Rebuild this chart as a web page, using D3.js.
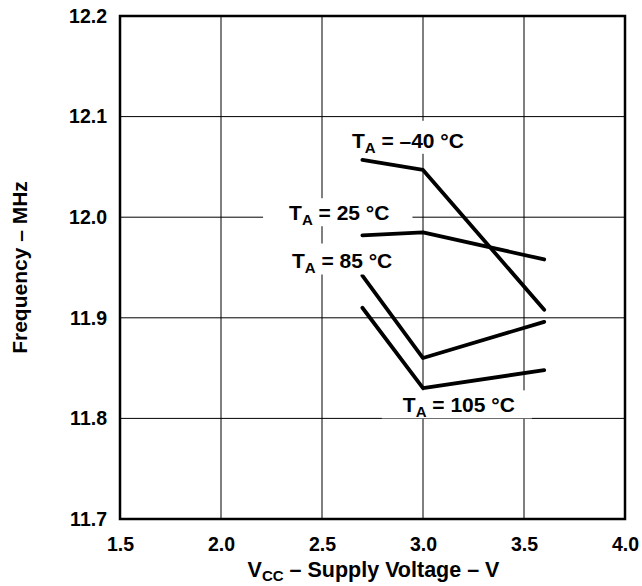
<!DOCTYPE html>
<html>
<head>
<meta charset="utf-8" />
<title>Frequency vs Supply Voltage</title>
<script src="https://d3js.org/d3.v7.min.js"></script>
<style>
  body { margin: 0; background: #fff; }
  text { font-family: 'Liberation Sans', Arial, sans-serif; font-weight: bold; fill: #000; }
  .grid line { stroke: #000; stroke-width: 1px; }
  .curve { fill: none; stroke: #000; stroke-width: 3.8px; stroke-linejoin: round; stroke-linecap: round; }
</style>
</head>
<body>
<script>
// supply voltage points (V)
var vcc = [2.7, 3.0, 3.6];
// frequency (MHz) per ambient temperature
var temps = ["–40", "25", "85", "105"];
var freqM40 = [12.057, 12.047, 11.908];
var freq25 = [11.982, 11.985, 11.958];
var freq85 = [11.942, 11.860, 11.896];
var freq105 = [11.910, 11.830, 11.848];
var xTicks = [1.5, 2.0, 2.5, 3.0, 3.5, 4.0];
var yTicks = [11.7, 11.8, 11.9, 12.0, 12.1, 12.2];

var series = [freqM40, freq25, freq85, freq105];

var width = 642, height = 586;
var margin = {top: 16, right: 17, bottom: 67, left: 120};
var w = width - margin.left - margin.right;
var h = height - margin.top - margin.bottom;

var svg = d3.select("body").append("svg")
  .attr("width", width)
  .attr("height", height);

var g = svg.append("g")
  .attr("transform", "translate(" + margin.left + "," + margin.top + ")");

var x = d3.scaleLinear().domain([1.5, 4.0]).range([0, w]);
var y = d3.scaleLinear().domain([11.7, 12.2]).range([h, 0]);

// grid
var grid = g.append("g").attr("class", "grid");
grid.selectAll("line.v").data(xTicks.slice(1, -1)).enter().append("line")
  .attr("x1", function(d) { return x(d); }).attr("x2", function(d) { return x(d); })
  .attr("y1", 0).attr("y2", h);
grid.selectAll("line.h").data(yTicks.slice(1, -1)).enter().append("line")
  .attr("y1", function(d) { return y(d); }).attr("y2", function(d) { return y(d); })
  .attr("x1", 0).attr("x2", w);

// axes labels via d3 axes
var xAxis = g.append("g")
  .attr("transform", "translate(0," + h + ")")
  .call(d3.axisBottom(x).tickValues(xTicks).tickFormat(d3.format(".1f")).tickSize(0).tickPadding(18));
var yAxis = g.append("g")
  .call(d3.axisLeft(y).tickValues(yTicks).tickFormat(d3.format(".1f")).tickSize(0).tickPadding(13));
[xAxis, yAxis].forEach(function(a) {
  a.select(".domain").remove();
  a.selectAll("text").attr("font-size", 19.5).attr("font-family", null).style("font-weight", "bold");
});

// curves
var line = d3.line()
  .x(function(d, i) { return x(vcc[i]); })
  .y(function(d) { return y(d); });
g.selectAll("path.curve").data(series).enter().append("path")
  .attr("class", "curve")
  .attr("d", line);

// temperature labels with white backing
var labelPos = [
  {x: 2.648, y: 12.069, box: [-8, -27, 8, 6]},
  {x: 2.337, y: 11.997, box: [-26, -22, 23, 6]},
  {x: 2.351, y: 11.950, box: [-10, -24, 10, 7]},
  {x: 2.90, y: 11.806, box: [-21, -22, 17, 6]}
];
temps.forEach(function(t, i) {
  var p = labelPos[i];
  var lg = g.append("g").attr("transform", "translate(" + x(p.x) + "," + y(p.y) + ")");
  var bg = lg.append("rect").attr("fill", "#fff");
  var tx = lg.append("text").attr("font-size", 21);
  tx.append("tspan").text("T");
  tx.append("tspan").attr("font-size", 15).attr("dy", 5).text("A");
  tx.append("tspan").attr("dy", -5).text(" = " + t + " °C");
  var bb = tx.node().getBBox();
  bg.attr("x", bb.x + p.box[0]).attr("y", p.box[1])
    .attr("width", bb.width - p.box[0] + p.box[2])
    .attr("height", p.box[3] - p.box[1]);
});

// frame
g.append("rect")
  .attr("width", w).attr("height", h)
  .attr("fill", "none").attr("stroke", "#000").attr("stroke-width", 2.5);

// axis titles
var xt = svg.append("text")
  .attr("x", margin.left + w / 2 + 1).attr("y", height - 9)
  .attr("text-anchor", "middle").attr("font-size", 21.5);
xt.append("tspan").text("V");
xt.append("tspan").attr("font-size", 15).attr("dy", 4).text("CC");
xt.append("tspan").attr("dy", -4).text(" – Supply Voltage – V");

svg.append("text")
  .attr("transform", "translate(27," + (margin.top + h / 2) + ") rotate(-90)")
  .attr("text-anchor", "middle").attr("font-size", 21)
  .text("Frequency – MHz");
</script>
</body>
</html>
